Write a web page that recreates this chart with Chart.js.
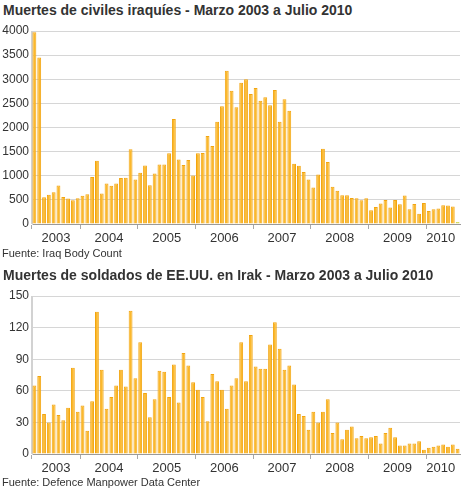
<!DOCTYPE html>
<html lang="es">
<head>
<meta charset="utf-8">
<script src="https://cdn.jsdelivr.net/npm/chart.js@4/dist/chart.umd.min.js"></script>
<style>
  body{margin:0;background:#fff;font-family:"Liberation Sans",Arial,sans-serif;color:#333}
  #wrap{position:relative;width:464px;height:490px;overflow:hidden}
  .tit{position:absolute;left:3px;font-weight:bold;font-size:14px;white-space:nowrap;color:#333}
  .fte{position:absolute;left:2px;font-size:11px;white-space:nowrap;color:#333}
  canvas{position:absolute;left:0}
</style>
</head>
<body>
<div id="wrap">
  <div class="tit" style="top:2px">Muertes de civiles iraquíes - Marzo 2003 a Julio 2010</div>
  <canvas id="chart-civiles" width="464" height="228" style="top:20px"></canvas>
  <div class="fte" style="top:247px">Fuente: Iraq Body Count</div>
  <div class="tit" style="top:267px">Muertes de soldados de EE.UU. en Irak - Marzo 2003 a Julio 2010</div>
  <canvas id="chart-soldados" width="464" height="193" style="top:285px"></canvas>
  <div class="fte" style="top:476px">Fuente: Defence Manpower Data Center</div>
</div>
<script>
// ══════════════════════════════════════════
// DATOS (mensuales, marzo 2003 – julio 2010)
// ══════════════════════════════════════════
const anios=['2003','2004','2005','2006','2007','2008','2009','2010'];
const mesesPorAnio=[10,12,12,12,12,12,12,7];
const civiles=[
  3975,3450,555,604,659,798,562,527,493,534,
  583,618,972,1312,632,840,791,840,951,958,1548,923,
  1062,1214,805,1048,1235,1235,1464,2177,1339,1221,1325,1006,
  1464,1471,1825,1617,2120,2440,3178,2763,2419,2929,2999,2695,
  2819,2556,2626,2460,2778,2121,2584,2349,1249,1208,1076,923,
  756,1027,1562,1284,770,687,597,597,541,534,493,534,
  285,354,423,500,340,500,409,590,305,416,215,437,
  271,305,319,389,382,361,40
];
const soldados=[
  65,74,38,30,47,37,32,44,82,40,
  46,22,50,135,80,43,54,65,80,64,136,72,
  106,58,35,52,79,78,54,85,49,96,84,68,
  61,54,31,76,69,61,43,65,72,106,69,113,
  83,81,81,104,125,100,80,84,66,38,36,23,
  40,30,40,52,20,30,14,23,26,15,17,15,
  16,17,10,20,25,16,8,8,10,10,12,4,
  6,7,8,9,7,9,5
];
const nombresMes=['ene','feb','mar','abr','may','jun','jul','ago','sep','oct','nov','dic'];

// etiquetas de categoría y posiciones de año
const meses=[],inicioAnio=[],etiquetaEn={};
anios.forEach((a,k)=>{
  const n=mesesPorAnio[k],primerMes=k===0?2:0;
  inicioAnio.push(meses.length);
  etiquetaEn[meses.length+Math.floor(n/2)]=a;
  for(let m=0;m<n;m++)meses.push(nombresMes[primerMes+m]+' '+a);
});
const limites=new Set([...inicioAnio,meses.length]);

Chart.defaults.font.family='"Liberation Sans", Arial, sans-serif';
Chart.defaults.color='#333';

function crearGrafico(id,datos,maxY,paso,colores){
  return new Chart(document.getElementById(id),{
    type:'bar',
    data:{labels:meses,datasets:[{data:datos,backgroundColor:colores.fondo,borderColor:colores.borde,
      borderWidth:1,borderSkipped:'start',barPercentage:0.8,categoryPercentage:1}]},
    options:{responsive:false,animation:false,
      layout:{padding:{top:11,right:4,left:0,bottom:0}},
      plugins:{legend:{display:false},tooltip:{enabled:false}},
      scales:{
        x:{offset:true,
          grid:{offset:true,drawOnChartArea:true,tickLength:5,
            color:c=>(c.index===0||c.index===meses.length)?'#d2d2d2':'rgba(0,0,0,0)',
            tickColor:c=>limites.has(c.index)?'#a8a8a8':'rgba(0,0,0,0)'},
          border:{display:true,color:'#9a9a9a',width:1},
          ticks:{autoSkip:false,maxRotation:0,minRotation:0,padding:2,labelOffset:-2.4,
            font:{size:13},color:'#333',callback:(v,i)=>etiquetaEn[i]||''},
          afterFit:s=>{s.height=24;}},
        y:{min:0,max:maxY,
          ticks:{stepSize:paso,padding:3,font:{size:12},color:'#333',callback:v=>String(v)},
          grid:{color:'#d6d6d6',drawTicks:false},
          border:{display:true,color:'#d2d2d2'},
          afterFit:s=>{s.width=32;}}
      }}
  });
}

crearGrafico('chart-civiles',civiles,4000,500,{
  fondo:civiles.map((v,i)=>i===civiles.length-1?'#d3dc5c':'#fbb82c'),
  borde:civiles.map((v,i)=>i===civiles.length-1?'#c6d34a':'#f2a510')});
crearGrafico('chart-soldados',soldados,150,30,{fondo:'#fbb82c',borde:'#f2a510'});
</script>
</body>
</html>
